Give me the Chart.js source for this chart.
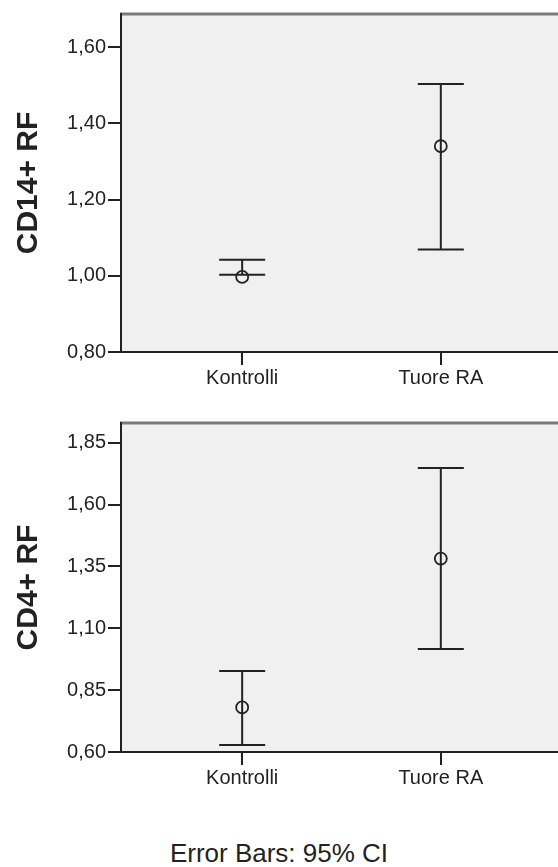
<!DOCTYPE html>
<html>
<head>
<meta charset="utf-8">
<script src="https://cdn.jsdelivr.net/npm/chart.js@4.4.1/dist/chart.umd.min.js"></script>
<style>
    body { margin: 0; background: #fff; }
    .chart-box { position: absolute; left: 0; width: 558px; height: 400px; }
    #caption {
        position: absolute; left: 0; top: 840px; width: 558px;
        text-align: center; font: 26px "Liberation Sans", Arial, sans-serif;
        line-height: 26px; color: #222;
    }
</style>
</head>
<body>
<div class="chart-box" style="top:0"><canvas id="cd14Chart"></canvas></div>
<div class="chart-box" style="top:400px"><canvas id="cd4Chart"></canvas></div>
<div id="caption">Error Bars: 95% CI</div>

<script>
// Data
const categories = ['Kontrolli', 'Tuore RA'];

const cd14Mean = [0.997, 1.34];
const cd14Low = [1.003, 1.069];
const cd14High = [1.042, 1.503];
const cd14Ticks = [0.80, 1.00, 1.20, 1.40, 1.60];

const cd4Mean = [0.78, 1.382];
const cd4Low = [0.628, 1.016];
const cd4High = [0.927, 1.748];
const cd4Ticks = [0.60, 0.85, 1.10, 1.35, 1.60, 1.85];

const FONT = '"Liberation Sans", Arial, sans-serif';
const INK = '#222';

// plot background + grey top frame line
const framePlugin = {
    id: 'frame',
    beforeDraw(chart) {
        const a = chart.chartArea;
        const ctx = chart.ctx;
        ctx.save();
        ctx.fillStyle = '#f0f0f0';
        ctx.fillRect(a.left, a.top, a.right - a.left, a.bottom - a.top);
        ctx.strokeStyle = '#7a7a7a';
        ctx.lineWidth = 3;
        ctx.beginPath();
        ctx.moveTo(a.left - 1, a.top);
        ctx.lineTo(a.right, a.top);
        ctx.stroke();
        ctx.restore();
    }
};

function makeChart(canvasId, title, means, lows, highs, yTicks, yMin, yMax, topPad) {
    const xs = categories.map((c, i) => i);

    // vertical whiskers, one line per group
    const whiskers = xs.map(i => ({
        type: 'scatter',
        showLine: true,
        data: [{ x: i, y: lows[i] }, { x: i, y: highs[i] }],
        borderColor: INK,
        borderWidth: 2,
        pointRadius: 0
    }));

    const caps = {
        type: 'scatter',
        data: xs.flatMap(i => [{ x: i, y: lows[i] }, { x: i, y: highs[i] }]),
        pointStyle: 'line',
        pointRadius: 23,
        borderColor: INK,
        borderWidth: 2
    };

    const meanPts = {
        type: 'scatter',
        data: xs.map(i => ({ x: i, y: means[i] })),
        pointStyle: 'circle',
        pointRadius: 6,
        borderColor: INK,
        borderWidth: 1.8,
        backgroundColor: 'rgba(0,0,0,0)'
    };

    return new Chart(document.getElementById(canvasId), {
        type: 'scatter',
        data: { datasets: [...whiskers, caps, meanPts] },
        plugins: [framePlugin],
        options: {
            responsive: true,
            maintainAspectRatio: false,
            animation: false,
            layout: {
                autoPadding: false,
                padding: { top: topPad, right: 0, left: 0, bottom: 0 }
            },
            plugins: {
                legend: { display: false },
                tooltip: { enabled: false }
            },
            scales: {
                x: {
                    type: 'linear',
                    min: -0.61,
                    max: 1.59,
                    afterBuildTicks: s => { s.ticks = xs.map(i => ({ value: i })); },
                    afterFit: s => { s.height = 48; },
                    grid: { drawOnChartArea: false, tickLength: 13, color: INK, lineWidth: 2 },
                    border: { display: true, color: INK, width: 2 },
                    ticks: {
                        padding: 1,
                        color: INK,
                        font: { family: FONT, size: 20 },
                        callback: v => categories[v]
                    }
                },
                y: {
                    min: yMin,
                    max: yMax,
                    afterBuildTicks: s => { s.ticks = yTicks.map(v => ({ value: v })); },
                    afterFit: s => { s.width = 121; },
                    grid: { drawOnChartArea: false, tickLength: 13, color: INK, lineWidth: 2 },
                    border: { display: true, color: INK, width: 2 },
                    ticks: {
                        padding: 2,
                        color: INK,
                        font: { family: FONT, size: 20 },
                        callback: v => v.toFixed(2).replace('.', ',')
                    },
                    title: {
                        display: true,
                        text: title,
                        color: INK,
                        padding: { top: 11, bottom: 0 },
                        font: { family: FONT, size: 30, weight: 'bold' }
                    }
                }
            }
        }
    });
}

document.addEventListener('DOMContentLoaded', function() {
    makeChart('cd14Chart', 'CD14+ RF', cd14Mean, cd14Low, cd14High, cd14Ticks, 0.80, 1.687, 13);
    makeChart('cd4Chart', 'CD4+ RF', cd4Mean, cd4Low, cd4High, cd4Ticks, 0.60, 1.93, 23);
});
</script>
</body>
</html>
